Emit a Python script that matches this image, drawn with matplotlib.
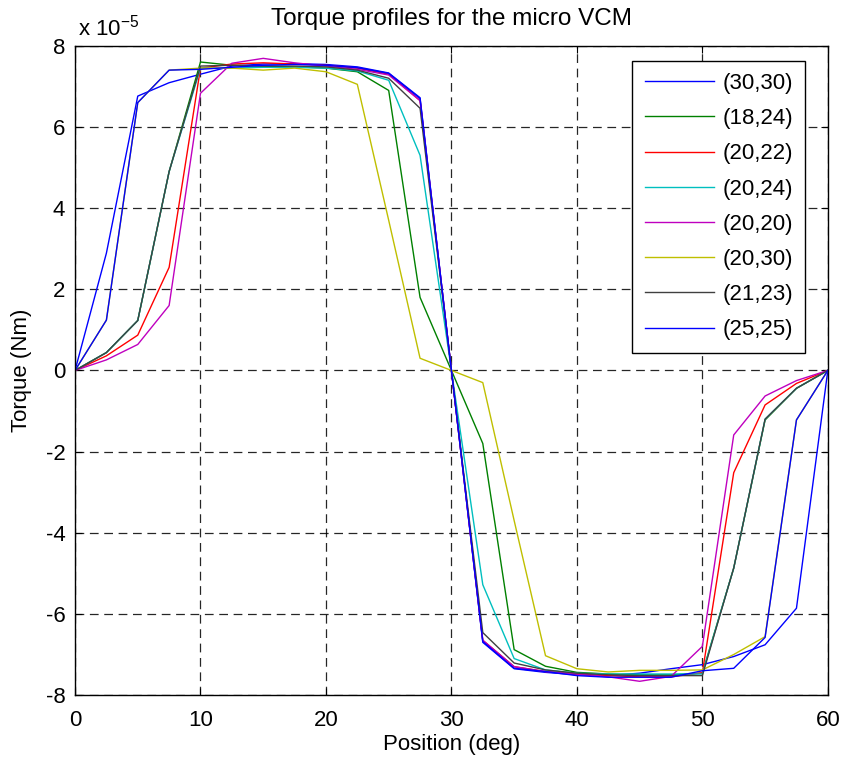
import numpy as np
import matplotlib
matplotlib.use("Agg")
import matplotlib.pyplot as plt

plt.rcParams['font.family'] = ['Liberation Sans', 'DejaVu Sans']
plt.rcParams['axes.unicode_minus'] = False

# position (deg)
position = np.arange(0, 60.1, 2.5)

# torque values in units of 1e-5 Nm
t_30_30 = [0, 2.89, 6.76, 7.09, 7.30, 7.50, 7.55, 7.56, 7.54, 7.48, 7.33, 6.72, 0,
           -6.70, -7.35, -7.44, -7.50, -7.52, -7.46, -7.35, -7.25, -7.05, -6.76, -5.86, 0]
t_18_24 = [0, 0.44, 1.23, 4.90, 7.60, 7.52, 7.50, 7.48, 7.45, 7.36, 6.90, 1.80, 0,
           -1.80, -6.88, -7.29, -7.44, -7.48, -7.50, -7.50, -7.46, -4.87, -1.22, -0.44, 0]
t_20_22 = [0, 0.36, 0.87, 2.54, 7.45, 7.55, 7.58, 7.55, 7.52, 7.45, 7.30, 6.65, 0,
           -6.65, -7.30, -7.42, -7.48, -7.52, -7.55, -7.55, -7.45, -2.52, -0.85, -0.32, 0]
t_20_24 = [0, 0.44, 1.23, 4.90, 7.45, 7.45, 7.47, 7.47, 7.45, 7.38, 7.15, 5.30, 0,
           -5.28, -7.10, -7.38, -7.46, -7.48, -7.48, -7.48, -7.48, -4.87, -1.20, -0.44, 0]
t_20_20 = [0, 0.26, 0.64, 1.60, 6.83, 7.57, 7.69, 7.58, 7.50, 7.42, 7.28, 6.65, 0,
           -6.65, -7.30, -7.42, -7.48, -7.55, -7.66, -7.54, -6.80, -1.59, -0.63, -0.25, 0]
t_20_30 = [0, 1.24, 6.60, 7.40, 7.45, 7.45, 7.40, 7.45, 7.36, 7.05, 3.70, 0.30, 0,
           -0.30, -3.70, -7.03, -7.35, -7.43, -7.39, -7.39, -7.38, -7.00, -6.56, -1.22, 0]
t_21_23 = [0, 0.44, 1.23, 4.90, 7.50, 7.52, 7.50, 7.50, 7.48, 7.40, 7.20, 6.46, 0,
           -6.46, -7.21, -7.38, -7.46, -7.50, -7.52, -7.52, -7.52, -4.87, -1.20, -0.44, 0]
t_25_25 = [0, 1.24, 6.60, 7.40, 7.42, 7.47, 7.52, 7.54, 7.52, 7.46, 7.32, 6.70, 0,
           -6.68, -7.34, -7.42, -7.52, -7.56, -7.56, -7.56, -7.40, -7.34, -6.58, -1.22, 0]

labels = ['(30,30)', '(18,24)', '(20,22)', '(20,24)', '(20,20)', '(20,30)', '(21,23)', '(25,25)']
series = [t_30_30, t_18_24, t_20_22, t_20_24, t_20_20, t_20_30, t_21_23, t_25_25]
colors = ['#0000ff', '#008000', '#ff0000', '#00bfbf', '#bf00bf', '#bfbf00', '#404040', '#0000ff']

fig = plt.figure(figsize=(8.43, 7.63), dpi=100)
ax = fig.add_axes([0.089, 0.089, 0.893, 0.851])

for vals, lab, col in zip(series, labels, colors):
    ax.plot(position, vals, color=col, lw=1.0, label=lab)

ax.set_xlim(0, 60)
ax.set_ylim(-8, 8)
ax.set_xticks(np.arange(0, 61, 10))
ax.set_yticks(np.arange(-8, 9, 2))
ax.grid(True, color='k', linestyle=(0, (7, 4.5)), lw=0.9, alpha=0.85)
ax.tick_params(direction='in', top=True, right=True, length=5, labelsize=16)
ax.tick_params(axis='x', pad=11)
ax.tick_params(axis='y', pad=7)
for s in ax.spines.values():
    s.set_linewidth(1.0)

ax.set_title('Torque profiles for the micro VCM', fontsize=17.5, pad=15)
ax.set_xlabel('Position (deg)', fontsize=16, labelpad=2)
ax.set_ylabel('Torque (Nm)', fontsize=16, labelpad=10)
ax.text(0.004, 1.008, r'x 10$^{\mathregular{-5}}$', transform=ax.transAxes,
        fontsize=16, ha='left', va='bottom')

leg = ax.legend(loc='upper right', bbox_to_anchor=(0.970, 0.977), borderaxespad=0,
                fontsize=16, handlelength=3.1, labelspacing=0.64, handletextpad=0.4,
                fancybox=False, framealpha=1, edgecolor='k', borderpad=0.55)
leg.get_frame().set_linewidth(1.0)

fig.savefig('out.png', dpi=100)
